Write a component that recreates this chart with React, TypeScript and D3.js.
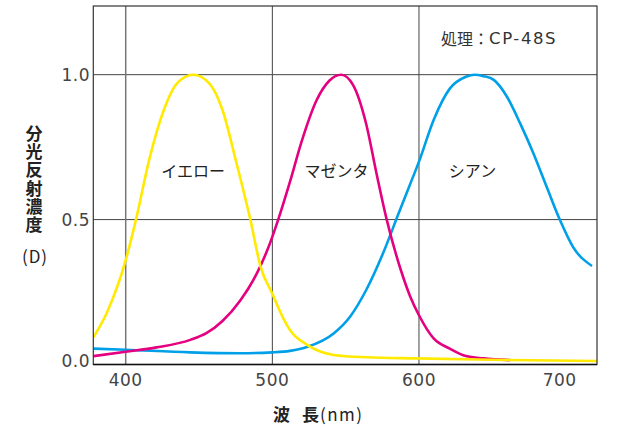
import React from 'react';
import * as d3 from 'd3';

// Spectral density curves (wavelength nm, density D)
const yellowWl = [378, 387, 400, 407, 416, 426, 435, 446, 457, 466, 475, 485, 492, 500, 508, 512, 524, 542, 564, 598, 640, 722];
const yellowD = [0.094, 0.177, 0.36, 0.5, 0.706, 0.878, 0.97, 1.0, 0.97, 0.878, 0.706, 0.5, 0.337, 0.244, 0.154, 0.119, 0.067, 0.033, 0.025, 0.021, 0.017, 0.012];

const magentaWl = [378, 400, 421, 444, 455, 466, 478, 489, 497, 504, 512, 520, 530, 539, 547, 555, 564, 571, 578, 588, 594, 600, 610, 621, 632, 644, 662];
const magentaD = [0.029, 0.044, 0.059, 0.085, 0.108, 0.15, 0.22, 0.31, 0.4, 0.5, 0.63, 0.77, 0.91, 0.98, 1.0, 0.965, 0.83, 0.66, 0.5, 0.32, 0.235, 0.17, 0.09, 0.055, 0.029, 0.021, 0.015];

const cyanWl = [378, 400, 444, 478, 500, 512, 524, 542, 553, 564, 576, 586, 593, 600, 610, 621, 632, 638, 644, 651, 660, 669, 678, 687, 696, 705, 718];
const cyanD = [0.055, 0.051, 0.042, 0.039, 0.042, 0.047, 0.061, 0.108, 0.165, 0.257, 0.39, 0.52, 0.61, 0.7, 0.844, 0.952, 0.993, 1.0, 0.995, 0.982, 0.924, 0.832, 0.729, 0.614, 0.5, 0.406, 0.34];

const seriesNames = ['シアン', 'マゼンタ', 'イエロー'];
const seriesColors = ['#00a0e9', '#e4007f', '#ffea00'];
const labelWl = [636.5, 543.8, 446];
const labelD = [0.67, 0.67, 0.67];

const xTicks = [400, 500, 600, 700];
const xGrid = [400, 500, 600];
const yTicks = [0, 0.5, 1.0];
const yTitle = '分光反射濃度';
const yUnit = '(D)';
const xTitle = ['波', '長', '(nm)'];
const notePrefix = '処理：';
const noteValue = 'CP-48S';

const W = 620;
const H = 428;
const left = 93.3;
const right = 597;
const top = 6;
const bottom = 364.5;

const App: React.FC = () => {
  const x = d3.scaleLinear().domain([377.9, 721.4]).range([left, right]);
  const y = d3.scaleLinear().domain([0, 1.237]).range([bottom, top]);

  const line = d3.line<[number, number]>()
    .x(d => x(d[0]))
    .y(d => y(d[1]))
    .curve(d3.curveMonotoneX);

  const series = [
    cyanWl.map((w, i) => [w, cyanD[i]] as [number, number]),
    magentaWl.map((w, i) => [w, magentaD[i]] as [number, number]),
    yellowWl.map((w, i) => [w, yellowD[i]] as [number, number]),
  ];

  const numFont = '"DejaVu Sans", sans-serif';
  const jpFont = '"Noto Sans CJK JP", sans-serif';

  return (
    <svg width={W} height={H} style={{ position: 'absolute', left: 0, top: 0, background: '#fff' }}>
      <defs>
        <clipPath id="plot">
          <rect x={left} y={top} width={right - left} height={bottom - top} />
        </clipPath>
      </defs>

      {/* grid */}
      {yTicks.filter(t => t > 0).map(t => (
        <line key={'h' + t} x1={left} x2={right} y1={y(t)} y2={y(t)} stroke="#444" strokeWidth={1} />
      ))}
      {xGrid.map(t => (
        <line key={'v' + t} x1={x(t)} x2={x(t)} y1={top} y2={bottom}
          stroke={t === 400 ? '#777' : '#444'} strokeWidth={t === 400 ? 1.5 : 1} />
      ))}

      {/* curves */}
      <g clipPath="url(#plot)">
        {series.map((s, i) => (
          <path key={i} d={line(s) || ''} fill="none" stroke={seriesColors[i]} strokeWidth={2.6} strokeLinejoin="round" />
        ))}
      </g>

      {/* frame */}
      <rect x={left} y={top} width={right - left} height={bottom - top} fill="none" stroke="#333" strokeWidth={1.2} />
      <line x1={left} x2={right} y1={bottom} y2={bottom} stroke="#111" strokeWidth={1.6} />

      {/* series labels */}
      {seriesNames.map((n, i) => (
        <text key={n} x={x(labelWl[i])} y={y(labelD[i])} textAnchor="middle" dominantBaseline="central"
          fontFamily={jpFont} fontSize={16} fill="#222">{n}</text>
      ))}

      {/* note */}
      <text x={441} y={38} dominantBaseline="central" fontFamily={jpFont} fontSize={16} fill="#333">
        {notePrefix}
        <tspan fontFamily={numFont} fontSize={16.5} letterSpacing={1.6}>{noteValue}</tspan>
      </text>

      {/* y ticks */}
      {yTicks.map(t => (
        <text key={'yt' + t} x={90} y={y(t) - (t === 0 ? 4 : 0)} textAnchor="end" dominantBaseline="central"
          fontFamily={numFont} fontSize={17} letterSpacing={0.5} fill="#444">{t.toFixed(1)}</text>
      ))}

      {/* x ticks */}
      {xTicks.map(t => (
        <text key={'xt' + t} x={x(t) - (t === 700 ? 6 : 0)} y={380} textAnchor="middle" dominantBaseline="central"
          fontFamily={numFont} fontSize={17} letterSpacing={0.5} fill="#444">{t}</text>
      ))}

      {/* y title (vertical) */}
      <text x={34} y={125} style={{ writingMode: 'vertical-rl' }} fontFamily={jpFont} fontSize={17}
        fontWeight={700} letterSpacing={1.2} fill="#222">{yTitle}</text>
      <text x={35} y={255} textAnchor="middle" dominantBaseline="central" fontFamily={jpFont} fontSize={17}
        letterSpacing={1} fill="#222">
        {yUnit}
      </text>

      {/* x title */}
      <text x={273} y={413} dominantBaseline="central" fontFamily={jpFont} fontSize={17} fill="#222">
        <tspan fontWeight={700}>{xTitle[0]}</tspan>
        <tspan fontWeight={700} dx={12}>{xTitle[1]}</tspan>
        <tspan dx={1} letterSpacing={1.5}>{xTitle[2]}</tspan>
      </text>
    </svg>
  );
};

export default App;
